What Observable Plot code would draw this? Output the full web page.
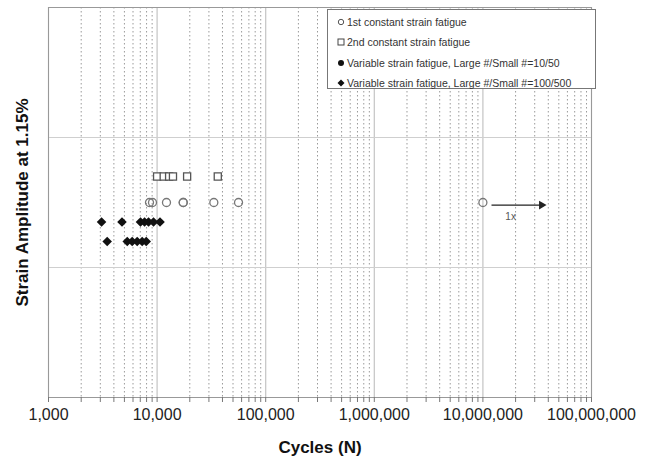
<!DOCTYPE html>
<html><head><meta charset="utf-8">
<script src="https://cdn.jsdelivr.net/npm/d3@7"></script>
<script src="https://cdn.jsdelivr.net/npm/@observablehq/plot@0.6"></script>
<style>
body{margin:0;background:#fff;font-family:"Liberation Sans",Arial,sans-serif;}
#wrap{position:relative;width:649px;height:465px;overflow:hidden;}
#legend{position:absolute;left:327px;top:9px;width:269px;height:80px;box-sizing:border-box;border:1px solid #777;background:#fff;font-size:10.5px;color:#333;padding-top:2px;}
#legend .row{height:20.3px;display:flex;align-items:center;padding-left:9px;white-space:nowrap;}
#legend svg{margin-right:2px;}
</style></head>
<body><div id="wrap"><div id="chart"></div><div id="legend"></div></div>
<script>
// Cycles to failure
const constant1 = [8510, 9070, 12200, 17400, 17400, 33300, 56200, 10000000];
const constant2 = [10000, 11500, 12900, 14000, 18900, 36200];
const variable10_50 = [3080, 4750, 7030, 7670, 8340, 9270, 10640];
const variable100_500 = [3470, 5310, 5900, 6560, 7290, 7940];
// vertical level (arbitrary units) of each series row
const levelConstant1 = 1.5;
const levelConstant2 = 1.7;
const levelVar10_50 = 1.35;
const levelVar100_500 = 1.2;
const runout = [{from: 1.2e7, to: 3.47e7, level: 1.48, labelAt: 1.8e7, label: "1x"}];
const legendLabels = [
  "1st constant strain fatigue",
  "2nd constant strain fatigue",
  "Variable strain fatigue, Large #/Small #=10/50",
  "Variable strain fatigue, Large #/Small #=100/500"
];
const decadeTicks = [1e3, 1e4, 1e5, 1e6, 1e7, 1e8];
const hGrid = [1, 2];

const minorTicks = [];
for (const d of decadeTicks.slice(0, -1)) for (let k = 2; k <= 9; k++) minorTicks.push(d * k);

const plot = Plot.plot({
  width: 649, height: 465,
  marginLeft: 48, marginRight: 58, marginTop: 7, marginBottom: 68,
  style: {fontFamily: "Liberation Sans, Arial, sans-serif", background: "white", color: "#222"},
  x: {type: "log", domain: [1e3, 1e8], label: null},
  y: {domain: [0, 3], axis: null},
  marks: [
    Plot.ruleX(minorTicks, {stroke: "#9a9a9a", strokeDasharray: "1.5,2.5", strokeWidth: 1}),
    Plot.ruleX(decadeTicks, {stroke: "#c4c4c4", strokeWidth: 1.2}),
    Plot.ruleY(hGrid, {stroke: "#cfcfcf", strokeWidth: 1.2}),
    Plot.frame({stroke: "#999"}),
    Plot.axisX({ticks: minorTicks, tickSize: 5, tickFormat: () => "", stroke: "#777", label: null}),
    Plot.axisX({ticks: decadeTicks, tickSize: 5, tickPadding: 6, tickFormat: d3.format(","), fontSize: 16, stroke: "#777", fill: "#222", label: null}),
    Plot.dot(constant2, {x: d => d, y: () => levelConstant2, symbol: "square", r: 4, stroke: "#555", fill: "white", strokeWidth: 1.3}),
    Plot.dot(constant1, {x: d => d, y: () => levelConstant1, symbol: "circle", r: 4, stroke: "#777", fill: "none", strokeWidth: 1.3}),
    Plot.dot(variable10_50, {x: d => d, y: () => levelVar10_50, symbol: "diamond2", r: 4.3, fill: "#111", stroke: "none"}),
    Plot.dot(variable100_500, {x: d => d, y: () => levelVar100_500, symbol: "diamond2", r: 4.3, fill: "#111", stroke: "none"}),
    Plot.link(runout, {x1: "from", x2: "to", y1: "level", y2: "level", stroke: "#222", strokeWidth: 1.3}),
    Plot.dot(runout, {x: "to", y: "level", symbol: "triangle", rotate: 90, r: 3.2, fill: "#222", stroke: "none"}),
    Plot.text(runout, {x: "labelAt", y: "level", text: "label", dy: 12, fontSize: 10, fill: "#555"}),
    Plot.text(["Strain Amplitude at 1.15%"], {frameAnchor: "left", textAnchor: "middle", dx: -26, rotate: -90, fontSize: 17, fontWeight: "bold", fill: "#111"}),
    Plot.text(["Cycles (N)"], {frameAnchor: "bottom", dy: 55, fontSize: 17, fontWeight: "bold", fill: "#111"})
  ]
});
document.getElementById("chart").append(plot);

const markers = [
  '<svg width="8" height="8"><circle cx="4" cy="4" r="2.7" fill="none" stroke="#555" stroke-width="1"/></svg>',
  '<svg width="8" height="8"><rect x="1" y="1" width="6" height="6" fill="none" stroke="#444" stroke-width="1"/></svg>',
  '<svg width="8" height="8"><circle cx="4" cy="4" r="3" fill="#111"/></svg>',
  '<svg width="8" height="8"><path d="M4,0.5L7.5,4L4,7.5L0.5,4Z" fill="#111"/></svg>'
];
const legend = document.getElementById("legend");
legendLabels.forEach((t, i) => {
  const row = document.createElement("div");
  row.className = "row";
  row.innerHTML = markers[i] + "<span>" + t + "</span>";
  legend.append(row);
});
</script></body></html>
